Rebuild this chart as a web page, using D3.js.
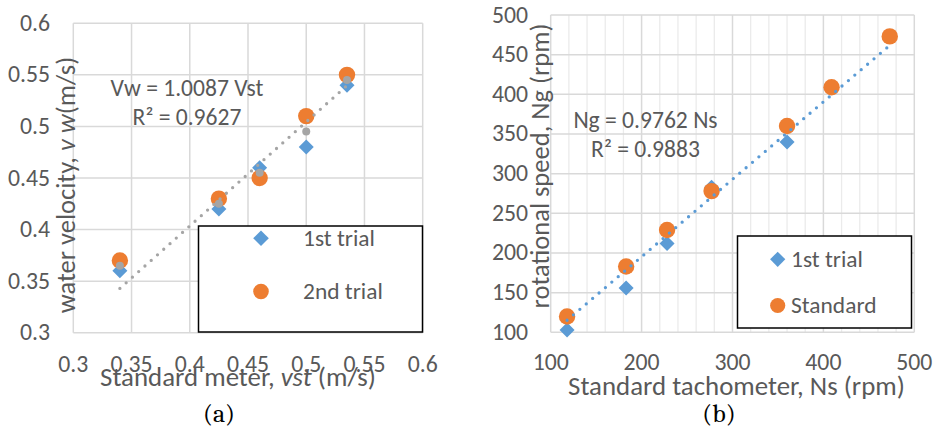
<!DOCTYPE html>
<html>
<head>
<meta charset="utf-8">
<script src="https://cdn.jsdelivr.net/npm/d3@7"></script>
<style>
  html, body { margin: 0; padding: 0; background: #fff; }
  svg { display: block; }
</style>
</head>
<body>
<div id="chart"></div>
<script>
// ---- data ----
// (a) water velocity vs standard meter
const aX      = [0.34, 0.425, 0.46, 0.5, 0.535];
const aTrial1 = [0.36, 0.42, 0.46, 0.48, 0.54];
const aTrial2 = [0.37, 0.43, 0.45, 0.51, 0.55];
const aMean   = [0.365, 0.425, 0.455, 0.495, 0.545];
const aSlope  = 1.0087;
const aTicks  = [0.3, 0.35, 0.4, 0.45, 0.5, 0.55, 0.6];
const aLegend = ["1st trial", "2nd trial"];

// (b) rotational speed vs standard tachometer
const bX        = [118, 183, 228, 277, 360, 409, 473];
const bTrial1   = [103, 156, 212, 283, 340, 409, 473];
const bStandard = [120, 183, 229, 278, 360, 409, 473];
const bSlope    = 0.9762;
const bXTicks   = [100, 200, 300, 400, 500];
const bYTicks   = [100, 150, 200, 250, 300, 350, 400, 450, 500];
const bMinorX   = d3.range(100, 501, 20);
const bLegend   = ["1st trial", "Standard"];

const BLUE = "#5b9bd5", ORANGE = "#ed7d31", GREY = "#a5a5a5";
const TXT = "#595959", GRID = "#d9d9d9";
const FONT = "Carlito, Calibri, Lato, sans-serif";
const SERIF = "Caladea, Cambria, 'Liberation Serif', serif";

const W = 935, H = 432;
const svg = d3.select("#chart").append("svg")
  .attr("width", W).attr("height", H)
  .attr("font-family", FONT);

// pick a font size that gives a string the width it has in the figure
function fitSize(str, width, family) {
  const t = svg.append("text").attr("font-size", 100)
    .attr("font-family", family || FONT).text(str);
  const len = t.node().getComputedTextLength();
  t.remove();
  return len > 0 ? 100 * width / len : 22;
}
const TICK    = (fitSize("0.55", 41.7) + fitSize("500", 36.5)) / 2;
const LEG     = fitSize("1st trial", 72);
const EQ      = fitSize("Vw = 1.0087 Vst", 153);
const TITLE_X = fitSize("Standard tachometer, Ns (rpm)", 337);
const TITLE_Y = fitSize("rotational speed, Ng (rpm)", 285);
const CAP     = fitSize("(a)", 32, SERIF);

const diamond = d3.symbol().type(d3.symbolSquare);
function drawDiamond(g, x, y, half, color) {
  // square rotated 45deg; half = half diagonal
  const side = half * Math.SQRT2;
  g.append("path").attr("d", diamond.size(side * side)())
    .attr("transform", `translate(${x},${y}) rotate(45)`)
    .attr("fill", color);
}

function trendLine(g, xs, slope, x, y, color) {
  const ext = d3.extent(xs);
  g.append("line")
    .attr("x1", x(ext[0])).attr("y1", y(slope * ext[0]))
    .attr("x2", x(ext[1])).attr("y2", y(slope * ext[1]))
    .attr("stroke", color).attr("stroke-width", 3.3)
    .attr("stroke-linecap", "round").attr("stroke-dasharray", "0 8.4");
}

/* ================= (a) ================= */
{
  const x = d3.scaleLinear().domain([0.3, 0.6]).range([73.3, 422.7]);
  const y = d3.scaleLinear().domain([0.3, 0.6]).range([332.7, 23.3]);
  const g = svg.append("g");

  g.selectAll(".vg").data(aTicks).join("line")
    .attr("x1", d => x(d)).attr("x2", d => x(d))
    .attr("y1", y(0.3)).attr("y2", y(0.6))
    .attr("stroke", GRID).attr("stroke-width", 1.5);
  g.selectAll(".hg").data(aTicks).join("line")
    .attr("y1", d => y(d)).attr("y2", d => y(d))
    .attr("x1", x(0.3)).attr("x2", x(0.6))
    .attr("stroke", GRID).attr("stroke-width", 1.5);

  g.selectAll(".yt").data(aTicks).join("text")
    .attr("x", 50).attr("y", d => y(d) + 7.5)
    .attr("text-anchor", "end").attr("font-size", TICK).attr("fill", TXT)
    .text(d => d);
  g.selectAll(".xt").data(aTicks).join("text")
    .attr("x", d => x(d)).attr("y", 372)
    .attr("text-anchor", "middle").attr("font-size", TICK).attr("fill", TXT)
    .text(d => d);

  aX.forEach((v, i) => drawDiamond(g, x(v), y(aTrial1[i]), 7.5, BLUE));
  aX.forEach((v, i) => g.append("circle").attr("cx", x(v)).attr("cy", y(aTrial2[i]))
    .attr("r", 8.2).attr("fill", ORANGE));
  aX.forEach((v, i) => g.append("circle").attr("cx", x(v)).attr("cy", y(aMean[i]))
    .attr("r", 4).attr("fill", GREY));
  trendLine(g, aX, aSlope, x, y, GREY);

  g.append("text").attr("x", 187).attr("y", 96).attr("text-anchor", "middle")
    .attr("font-size", EQ).attr("fill", TXT).text(`Vw = ${aSlope} Vst`);
  g.append("text").attr("x", 187).attr("y", 125).attr("text-anchor", "middle")
    .attr("font-size", EQ).attr("fill", TXT).text("R² = 0.9627");

  // legend
  g.append("rect").attr("x", 198.5).attr("y", 226).attr("width", 224).attr("height", 106)
    .attr("fill", "#fff").attr("stroke", "#000").attr("stroke-width", 1.5);
  drawDiamond(g, 261, 238.3, 7.8, BLUE);
  g.append("circle").attr("cx", 261).attr("cy", 291.5).attr("r", 7.8).attr("fill", ORANGE);
  g.append("text").attr("x", 303).attr("y", 246).attr("font-size", LEG).attr("fill", TXT).text(aLegend[0]);
  g.append("text").attr("x", 303).attr("y", 298.5).attr("font-size", LEG).attr("fill", TXT).text(aLegend[1]);

  // axis titles
  const xt = g.append("text").attr("x", 238).attr("y", 386).attr("text-anchor", "middle")
    .attr("font-size", TITLE_X).attr("fill", TXT);
  xt.append("tspan").text("Standard meter, ");
  xt.append("tspan").attr("font-style", "italic").text("vst");
  xt.append("tspan").text(" (m/s)");

  const yt = g.append("text").attr("transform", "translate(75,185) rotate(-90)")
    .attr("text-anchor", "middle").attr("font-size", TITLE_Y).attr("fill", TXT);
  yt.append("tspan").text("water velocity, ");
  yt.append("tspan").attr("font-style", "italic").text("v w");
  yt.append("tspan").text("(m/s)");

  g.append("text").attr("x", 219).attr("y", 422).attr("text-anchor", "middle")
    .attr("font-family", SERIF).attr("font-size", CAP).attr("fill", "#000").text("(a)");
}

/* ================= (b) ================= */
{
  const x = d3.scaleLinear().domain([100, 500]).range([550.7, 914.3]);
  const y = d3.scaleLinear().domain([100, 500]).range([332.3, 15]);
  const g = svg.append("g");

  g.selectAll(".mg").data(bMinorX.filter(d => d % 100 !== 0)).join("line")
    .attr("x1", d => x(d)).attr("x2", d => x(d))
    .attr("y1", y(100)).attr("y2", y(500))
    .attr("stroke", "#ebebeb").attr("stroke-width", 1.3);
  g.selectAll(".vg").data(bXTicks).join("line")
    .attr("x1", d => x(d)).attr("x2", d => x(d))
    .attr("y1", y(100)).attr("y2", y(500))
    .attr("stroke", GRID).attr("stroke-width", 1.5);
  g.selectAll(".hg").data(bYTicks).join("line")
    .attr("y1", d => y(d)).attr("y2", d => y(d))
    .attr("x1", x(100)).attr("x2", x(500))
    .attr("stroke", GRID).attr("stroke-width", 1.5);

  g.selectAll(".yt").data(bYTicks).join("text")
    .attr("x", 528).attr("y", d => y(d) + 7.5)
    .attr("text-anchor", "end").attr("font-size", TICK).attr("fill", TXT)
    .text(d => d);
  g.selectAll(".xt").data(bXTicks).join("text")
    .attr("x", d => x(d)).attr("y", 370)
    .attr("text-anchor", "middle").attr("font-size", TICK).attr("fill", TXT)
    .text(d => d);

  bX.forEach((v, i) => drawDiamond(g, x(v), y(bTrial1[i]), 7.5, BLUE));
  bX.forEach((v, i) => g.append("circle").attr("cx", x(v)).attr("cy", y(bStandard[i]))
    .attr("r", 8.2).attr("fill", ORANGE));
  trendLine(g, bX, bSlope, x, y, BLUE);

  g.append("text").attr("x", 645.5).attr("y", 128).attr("text-anchor", "middle")
    .attr("font-size", EQ).attr("fill", TXT).text(`Ng = ${bSlope} Ns`);
  g.append("text").attr("x", 645.5).attr("y", 157).attr("text-anchor", "middle")
    .attr("font-size", EQ).attr("fill", TXT).text("R² = 0.9883");

  g.append("rect").attr("x", 737.5).attr("y", 236).attr("width", 174).attr("height", 92)
    .attr("fill", "#fff").attr("stroke", "#000").attr("stroke-width", 1.5);
  drawDiamond(g, 777.7, 259.3, 7.6, BLUE);
  g.append("circle").attr("cx", 777.7).attr("cy", 305.5).attr("r", 7.6).attr("fill", ORANGE);
  g.append("text").attr("x", 791).attr("y", 267).attr("font-size", LEG).attr("fill", TXT).text(bLegend[0]);
  g.append("text").attr("x", 791).attr("y", 313).attr("font-size", LEG).attr("fill", TXT).text(bLegend[1]);

  g.append("text").attr("x", 736.5).attr("y", 395).attr("text-anchor", "middle")
    .attr("font-size", TITLE_X).attr("fill", TXT).text("Standard tachometer, Ns (rpm)");
  g.append("text").attr("transform", "translate(549,166) rotate(-90)")
    .attr("text-anchor", "middle").attr("font-size", TITLE_Y).attr("fill", TXT)
    .text("rotational speed, Ng (rpm)");

  g.append("text").attr("x", 719).attr("y", 422).attr("text-anchor", "middle")
    .attr("font-family", SERIF).attr("font-size", CAP).attr("fill", "#000").text("(b)");
}
</script>
</body>
</html>
